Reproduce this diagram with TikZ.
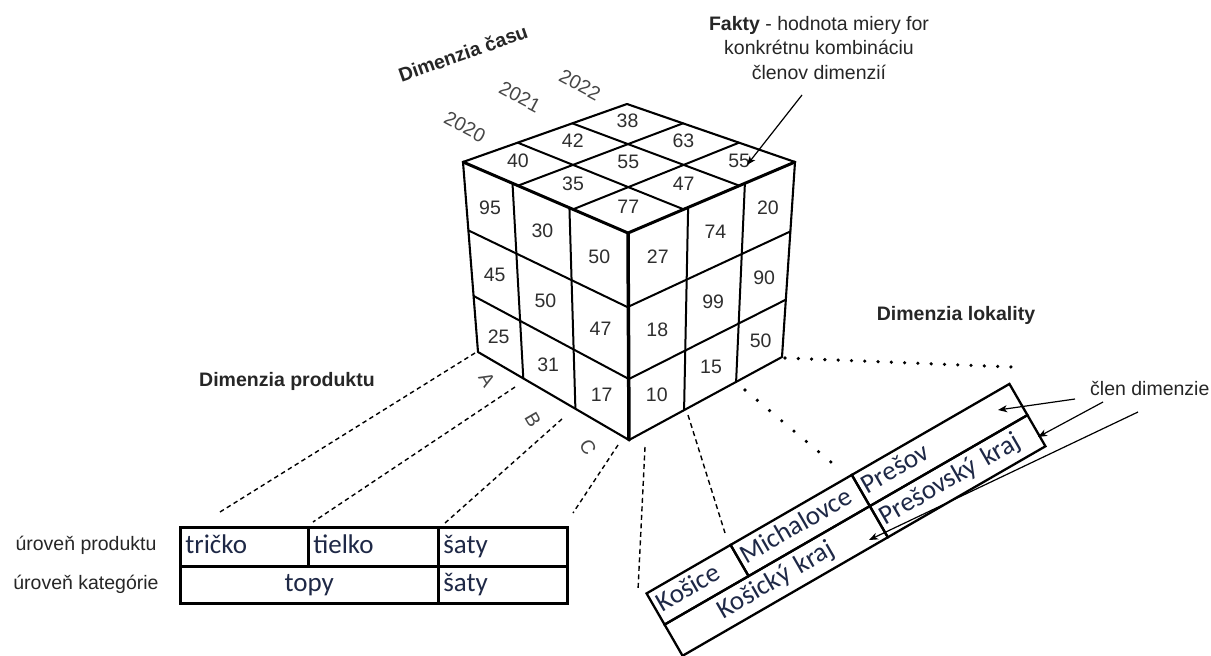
\documentclass[tikz,border=0pt]{standalone}
\usepackage{fontspec}
\setmainfont{Liberation Sans}
\newfontfamily\tablefont{Carlito}
\usetikzlibrary{calc,arrows.meta}
\definecolor{ink}{HTML}{262626}
\definecolor{numink}{HTML}{2e2e2e}
\definecolor{tabink}{RGB}{30,40,70}

% number placed at the bilinear point (s,t) of the face with corners TL TR BL BR
\newcommand\facenum[8]{\node[num] (#1) at ($ ($(#2)!#7!(#4)$)!#6!($(#3)!#7!(#5)$) $) {#8};}

\begin{document}
\begin{tikzpicture}[x=1pt, y=-1pt,
  font=\fontsize{19.5}{24.5}\selectfont,
  lbl/.style={text=ink, inner sep=0pt},
  boldlbl/.style={text=ink, inner sep=0pt, font=\fontsize{19.5}{24.5}\selectfont\bfseries},
  yearlbl/.style={text=ink!85, inner sep=0pt, rotate=-28},
  axislbl/.style={text=ink!85, inner sep=0pt, rotate=-60},
  num/.style={text=numink, inner sep=0pt, font=\fontsize{19.5}{22}\selectfont},
  cubegrid/.style={line width=2pt, line cap=round, line join=round},
  cubeline/.style={line width=2.1pt, line join=round},
  cubefront/.style={line width=3pt, line cap=round, line join=round},
  tcell/.style={draw, line width=2.6pt, anchor=north west, inner xsep=5pt, inner ysep=0pt,
    text height=19pt, text depth=6pt, text=tabink, align=left,
    font=\tablefont\fontsize{27}{30}\selectfont},
  pdash/.style={line width=1.4pt, dash pattern=on 4.5pt off 3.5pt},
  ldash/.style={line width=1.4pt, dash pattern=on 5pt off 3.5pt},
  dotrow/.style={line width=3.6pt, line cap=round, dash pattern=on 0pt off #1},
  pointer/.style={line width=1.2pt, -{Stealth[length=9pt, width=7pt, inset=2.5pt]}},
]
\useasboundingbox (0,0) rectangle (1211,656);
\fill[white] (0,0) rectangle (1211,656);

% ---------- cube corners ----------
\coordinate (L)  at (463,162);
\coordinate (B)  at (627,104);
\coordinate (R)  at (795,162);
\coordinate (F)  at (628,233);
\coordinate (LB) at (478,352);
\coordinate (FB) at (629,440);
\coordinate (RB) at (782,357);

% top face grid
\foreach \f in {0.3333,0.6667} {
  \draw[cubegrid] ($(B)!\f!(L)$) -- ($(R)!\f!(F)$);
  \draw[cubegrid] ($(B)!\f!(R)$) -- ($(L)!\f!(F)$);
}
% left face grid
\foreach \f in {0.30,0.645} \draw[cubegrid] ($(L)!\f!(F)$) -- ($(LB)!\f!(FB)$);
\foreach \f in {0.36,0.705} \draw[cubegrid] ($(L)!\f!(LB)$) -- ($(F)!\f!(FB)$);
% right face grid
\foreach \f in {0.36,0.70} \draw[cubegrid] ($(F)!\f!(R)$) -- ($(FB)!\f!(RB)$);
\foreach \f in {0.356,0.706} \draw[cubegrid] ($(F)!\f!(FB)$) -- ($(R)!\f!(RB)$);

% outline
\draw[cubeline] (L) -- (B) -- (R) -- (RB) -- (FB) -- (LB) -- cycle;
\draw[cubefront] (L) -- (F) -- (R);
\draw[cubefront, line width=3.5pt] (F) -- (FB);

% top face values
\begin{scope}[num/.append style={yshift=3pt}]
\facenum{t38}{B}{R}{L}{F}{0.1667}{0.1667}{38}
\facenum{t42}{B}{R}{L}{F}{0.1667}{0.5}{42}
\facenum{t63}{B}{R}{L}{F}{0.5}{0.1667}{63}
\facenum{t40}{B}{R}{L}{F}{0.1667}{0.8333}{40}
\facenum{t55a}{B}{R}{L}{F}{0.5}{0.5}{55}
\facenum{t55b}{B}{R}{L}{F}{0.8333}{0.1667}{55}
\facenum{t35}{B}{R}{L}{F}{0.5}{0.8333}{35}
\facenum{t47}{B}{R}{L}{F}{0.8333}{0.5}{47}
\facenum{t77}{B}{R}{L}{F}{0.8333}{0.8333}{77}
\end{scope}

% left face values
\facenum{l95}{L}{F}{LB}{FB}{0.15}{0.18}{95}
\facenum{l30}{L}{F}{LB}{FB}{0.4725}{0.18}{30}
\facenum{l50a}{L}{F}{LB}{FB}{0.8225}{0.18}{50}
\facenum{l45}{L}{F}{LB}{FB}{0.15}{0.5325}{45}
\facenum{l50b}{L}{F}{LB}{FB}{0.4725}{0.5325}{50}
\facenum{l47}{L}{F}{LB}{FB}{0.8225}{0.5325}{47}
\facenum{l25}{L}{F}{LB}{FB}{0.15}{0.8525}{25}
\facenum{l31}{L}{F}{LB}{FB}{0.4725}{0.8525}{31}
\facenum{l17}{L}{F}{LB}{FB}{0.8225}{0.8525}{17}

% right face values
\facenum{r27}{F}{R}{FB}{RB}{0.18}{0.18}{27}
\facenum{r74}{F}{R}{FB}{RB}{0.53}{0.18}{74}
\facenum{r20}{F}{R}{FB}{RB}{0.85}{0.18}{20}
\facenum{r18}{F}{R}{FB}{RB}{0.18}{0.5325}{18}
\facenum{r99}{F}{R}{FB}{RB}{0.53}{0.5325}{99}
\facenum{r90}{F}{R}{FB}{RB}{0.85}{0.5325}{90}
\facenum{r10}{F}{R}{FB}{RB}{0.18}{0.8525}{10}
\facenum{r15}{F}{R}{FB}{RB}{0.53}{0.8525}{15}
\facenum{r50}{F}{R}{FB}{RB}{0.85}{0.8525}{50}

% ---------- time dimension ----------
\node[boldlbl, rotate=19.5] (cas) at (463,53) {Dimenzia času};
\node[yearlbl] (y2020) at (465,127) {2020};
\node[yearlbl] (y2021) at (520,97) {2021};
\node[yearlbl] (y2022) at (580,85) {2022};

% ---------- facts ----------
\node[lbl, align=center] (fakty) at (819,48)
  {\textbf{Fakty} - hodnota miery for\\konkrétnu kombináciu\\členov dimenzií};
\coordinate (faktyFrom) at (802,95);
\coordinate (faktyTo) at (747,165);
\draw[pointer] (faktyFrom) -- (faktyTo);

% ---------- product dimension ----------
\node[boldlbl, anchor=base] (produkt) at (287,386) {Dimenzia produktu};
\node[axislbl] (axA) at (487,380) {A};
\node[axislbl] (axB) at (533,420) {B};
\node[axislbl] (axC) at (588,447) {C};

\node[lbl, anchor=base] (urovenP) at (86,550) {úroveň produktu};
\node[lbl, anchor=base] (urovenK) at (86,589) {úroveň kategórie};

\node[tcell, text width=118pt, minimum height=39pt] (tricko) at (179,526) {tričko};
\node[tcell, text width=120pt, minimum height=39pt] (tielko) at (307,526) {tielko};
\node[tcell, text width=119pt, minimum height=39pt] (saty1)  at (437,526) {šaty};
\node[tcell, text width=248pt, minimum height=37pt, align=center] (topy) at (179,565) {topy};
\node[tcell, text width=119pt, minimum height=37pt] (saty2)  at (437,565) {šaty};

\coordinate (pa1) at (475,353); \coordinate (pa2) at (220,512);
\coordinate (pb1) at (515,387); \coordinate (pb2) at (313,522);
\coordinate (pc1) at (562,419); \coordinate (pc2) at (445,523);
\coordinate (pd1) at (618,445); \coordinate (pd2) at (573,513);
\draw[pdash] (pa1) -- (pa2);
\draw[pdash] (pb1) -- (pb2);
\draw[pdash] (pc1) -- (pc2);
\draw[pdash] (pd1) -- (pd2);

% ---------- locality dimension ----------
\node[boldlbl, anchor=base] (lokalita) at (956,320) {Dimenzia lokality};

\begin{scope}[shift={(645,593)}, rotate=30, transform shape]
  \node[tcell, line width=2.3pt, inner xsep=4pt, text width=89pt,  minimum height=36pt] (kosice) at (0,0) {Košice};
  \node[tcell, line width=2.3pt, inner xsep=4pt, text width=132pt, minimum height=36pt] (michalovce) at (97,0) {Michalovce};
  \node[tcell, line width=2.3pt, inner xsep=4pt, text width=174pt, minimum height=36pt] (presov) at (237,0) {Prešov};
  \node[tcell, line width=2.3pt, inner xsep=4pt, text width=229pt, minimum height=36pt, align=center] (kosickykraj) at (0,36) {Košický kraj};
  \node[tcell, line width=2.3pt, inner xsep=4pt, text width=174pt, minimum height=36pt] (presovskykraj) at (237,36) {Prešovský kraj};
\end{scope}

\coordinate (le1) at (645,447); \coordinate (le2) at (638,590);
\coordinate (lf1) at (688,415); \coordinate (lf2) at (725,533);
\coordinate (lg1) at (745,390); \coordinate (lg2) at (838,468);
\coordinate (lh1) at (785,358); \coordinate (lh2) at (1012,367);
\draw[ldash] (le1) -- (le2);
\draw[ldash] (lf1) -- (lf2);
\draw[dotrow=16pt] (lg1) -- (lg2);
\draw[dotrow=13.3pt] (lh1) -- (lh2);

% ---------- dimension member ----------
\node[lbl, anchor=base west] (clen) at (1090,395) {člen dimenzie};
\coordinate (ca1) at (1075,399); \coordinate (ca2) at (998,410);
\coordinate (cb1) at (1103,402); \coordinate (cb2) at (1038,437);
\coordinate (cc1) at (1138,412); \coordinate (cc2) at (869,540);
\draw[pointer] (ca1) -- (ca2);
\draw[pointer] (cb1) -- (cb2);
\draw[pointer] (cc1) -- (cc2);
\end{tikzpicture}
\end{document}
